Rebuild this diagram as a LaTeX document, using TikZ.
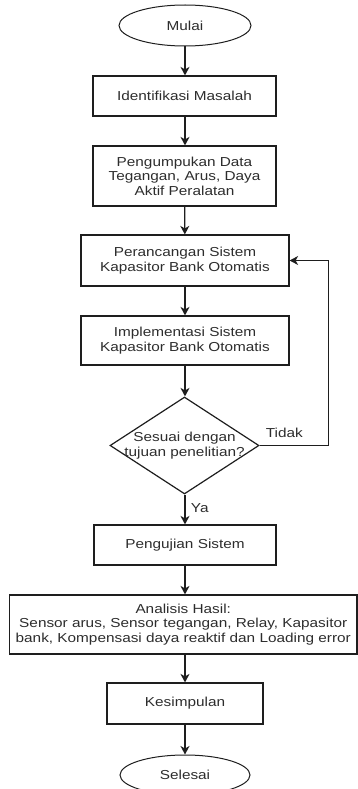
\documentclass[tikz,border=0pt]{standalone}
\usepackage{fontspec}
\setmainfont{Liberation Sans}[FakeStretch=1.18]
\usetikzlibrary{shapes.geometric,arrows.meta}
\definecolor{linec}{RGB}{30,30,30}
\definecolor{textc}{RGB}{45,45,45}
\tikzset{
  txt/.style={text=textc, font=\fontsize{13}{14.5}\selectfont, align=center},
  box/.style={txt, draw=linec, line width=1.2pt, rectangle, inner sep=0pt},
  term/.style={txt, draw=linec, line width=1pt, ellipse, inner sep=0pt},
  decide/.style={draw=linec, line width=1.2pt, diamond, inner sep=0pt},
  flow/.style={draw=linec, line width=1.3pt, -{Stealth[length=8.5pt,width=9pt,inset=2.5pt]}},
}
\begin{document}
\begin{tikzpicture}[x=1pt,y=-1pt]
\useasboundingbox (0,0) rectangle (358,789);
\node[term, minimum width=132pt, minimum height=41pt] (mulai) at (185,25.5) {Mulai};
\node[box, minimum width=183pt, minimum height=40pt] (ident) at (184.5,96) {Identifikasi Masalah};
\node[box, minimum width=183pt, minimum height=60pt] (kumpul) at (184.5,176) {Pengumpukan Data\\Tegangan, Arus, Daya\\Aktif Peralatan};
\node[box, minimum width=208pt, minimum height=51pt] (rancang) at (185,260.5) {Perancangan Sistem\\Kapasitor Bank Otomatis};
\node[box, minimum width=208pt, minimum height=49pt] (impl) at (185,340.5) {Implementasi Sistem\\Kapasitor Bank Otomatis};
\node[decide, minimum width=149pt, minimum height=97pt,
  label={[txt]center:{Sesuai dengan\\tujuan penelitian?}}] (dec) at (184.5,445.5) {};
\node[box, minimum width=182pt, minimum height=40pt] (uji) at (185,545) {Pengujian Sistem};
\node[box, minimum width=347.5pt, minimum height=59pt] (anal) at (183.25,624.5) {Analisis Hasil:\\Sensor arus, Sensor tegangan, Relay, Kapasitor\\bank, Kompensasi daya reaktif dan Loading error};
\node[box, minimum width=156pt, minimum height=41pt] (kes) at (185,703.5) {Kesimpulan};
\node[term, minimum width=130pt, minimum height=40pt] (sel) at (185,775) {Selesai};

\draw[flow] (mulai.south -| 185,0) -- (ident.north -| 185,0);
\draw[flow] (ident.south -| 185,0) -- (kumpul.north -| 185,0);
\draw[flow] (kumpul) -- (rancang);
\draw[flow] (rancang) -- (impl);
\draw[flow] (impl.south -| 185,0) -- (dec.north -| 185,0);
\draw[flow] (dec.south -| 185,0) -- node[txt, anchor=west, pos=0.45, xshift=2pt] (ya) {Ya} (uji.north -| 185,0);
\draw[flow] (uji.south -| 185,0) -- (anal.north -| 185,0);
\draw[flow] (anal.south -| 185,0) -- (kes.north -| 185,0);
\draw[flow] (kes) -- (sel);
\coordinate (fb) at (328.3,445.5);
\draw[flow] (dec.east) -- (fb) |- (rancang.east);
\node[txt, anchor=west, inner sep=0pt] (tidak) at ([shift={(6,-13)}]dec.east) {Tidak};
\end{tikzpicture}
\end{document}
